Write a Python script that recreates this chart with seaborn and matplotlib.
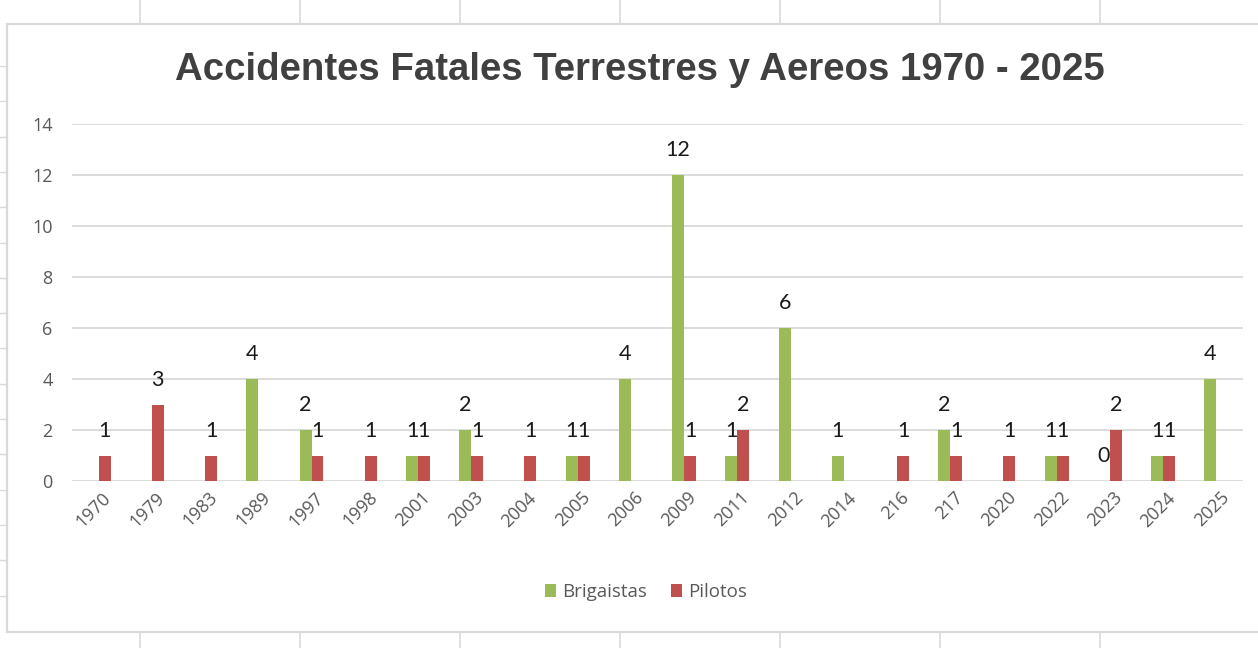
import numpy as np
import pandas as pd
import matplotlib
matplotlib.use("Agg")
import matplotlib.pyplot as plt
import matplotlib.transforms as mtransforms
from matplotlib.lines import Line2D
from matplotlib.patches import Rectangle
import seaborn as sns

# ---------------- data ----------------
years = ["1970", "1979", "1983", "1989", "1997", "1998", "2001", "2003", "2004",
         "2005", "2006", "2009", "2011", "2012", "2014", "216", "217", "2020",
         "2022", "2023", "2024", "2025"]
brigaistas = [np.nan, np.nan, np.nan, 4, 2, np.nan, 1, 2, np.nan, 1, 4, 12, 1, 6,
              1, np.nan, 2, np.nan, 1, 0, 1, 4]
pilotos = [1, 3, 1, np.nan, 1, 1, 1, 1, 1, 1, np.nan, 1, 2, np.nan, np.nan, 1, 1,
           1, 1, 2, 1, np.nan]
series = ["Brigaistas", "Pilotos"]
colors = ["#9BBB59", "#C0504D"]
title = "Accidentes Fatales Terrestres y Aereos 1970 - 2025"
y_ticks = [0, 2, 4, 6, 8, 10, 12, 14]

df = pd.concat([
    pd.DataFrame({"Año": years, "Valor": brigaistas, "Serie": series[0]}),
    pd.DataFrame({"Año": years, "Valor": pilotos, "Serie": series[1]}),
]).dropna(subset=["Valor"])

# ---------------- figure ----------------
sns.set_theme(style="white")
plt.rcParams["font.family"] = ["Open Sans", "DejaVu Sans"]

W, H = 1258, 648
fig = plt.figure(figsize=(W / 100, H / 100), dpi=100)
fig.patch.set_facecolor("white")


def fx(px):
    return px / W


def fy(py):
    return 1 - py / H


grid_c = "#D9D9D9"
# spreadsheet decorations (outside the chart)
for k in range(7):
    x = fx(140 + 160 * k)
    fig.add_artist(Line2D([x, x], [fy(0), fy(24)], color=grid_c, lw=1.2))
    fig.add_artist(Line2D([x, x], [fy(632), fy(648)], color=grid_c, lw=1.2))
for k in range(16):
    y = fy(66 + 35.3 * k)
    fig.add_artist(Line2D([fx(0), fx(7)], [y, y], color=grid_c, lw=1.0))
# chart border
fig.add_artist(Rectangle((fx(7), fy(632)), fx(1270) - fx(7), fy(24) - fy(632),
                         transform=fig.transFigure, facecolor="white",
                         edgecolor=grid_c, lw=1.6, zorder=0))

ax = fig.add_axes([fx(72), fy(481), fx(1243) - fx(72), fy(124) - fy(481)])
ax.set_facecolor("none")

sns.barplot(data=df, x="Año", y="Valor", hue="Serie", order=years,
            hue_order=series, palette=colors, width=0.45, errorbar=None,
            saturation=1, linewidth=0, ax=ax, legend=False)

for cont in ax.containers:
    ax.bar_label(cont, fmt="%g", padding=10.5, fontsize=15.5,
                 family=["Lato", "DejaVu Sans"], color="#1a1a1a")

ax.set_ylim(0, 14)
ax.set_yticks(y_ticks)
ax.yaxis.grid(True, color=grid_c, lw=1.3)
ax.set_axisbelow(True)
for s in ax.spines.values():
    s.set_visible(False)
ax.set_xlabel("")
ax.set_ylabel("")
ax.tick_params(axis="both", length=0, labelsize=13, labelcolor="#595959")
ax.tick_params(axis="y", pad=14)
ax.tick_params(axis="x", pad=10)
offset = mtransforms.ScaledTranslation(7 / 72, 0, fig.dpi_scale_trans)
for lab in ax.get_xticklabels():
    lab.set_rotation(45)
    lab.set_ha("right")
    lab.set_va("center")
    lab.set_rotation_mode("anchor")
    lab.set_transform(lab.get_transform() + offset)

handles = [Rectangle((0, 0), 1, 1, facecolor=c, edgecolor="none") for c in colors]
fig.legend(handles, series, loc="center", bbox_to_anchor=(fx(646), fy(592)),
           ncol=2, frameon=False, handlelength=0.6, handleheight=0.75,
           handletextpad=0.3, columnspacing=1.3, fontsize=13.5,
           labelcolor="#595959")

t = fig.text(fx(640), fy(70), title, ha="center", va="center",
             fontweight="bold", color="#404040",
             family=["Liberation Sans Narrow", "Liberation Sans"], fontsize=28)
fig.canvas.draw()
bb = t.get_window_extent(renderer=fig.canvas.get_renderer())
t.set_fontsize(28 * 930 / bb.width)

fig.savefig("out.png", dpi=100, facecolor="white")
